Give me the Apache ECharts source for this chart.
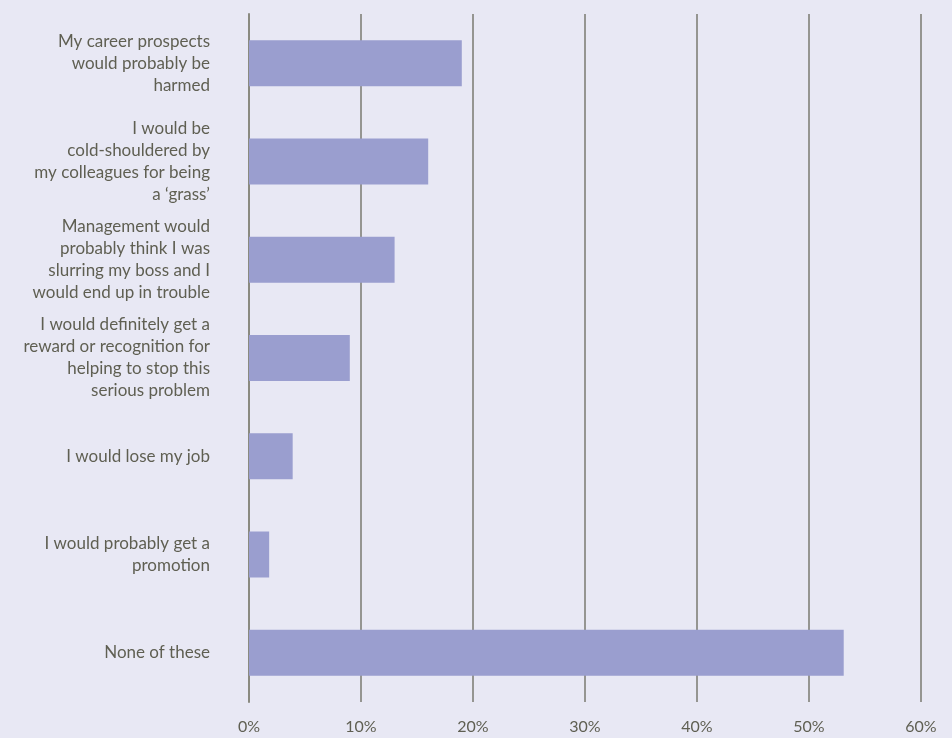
<!DOCTYPE html>
<html>
<head>
<meta charset="utf-8">
<script src="https://cdn.jsdelivr.net/npm/echarts@6/dist/echarts.min.js"></script>
<style>
  html, body { margin: 0; padding: 0; background: #e8e8f4; }
  #chart { width: 952px; height: 738px; }
</style>
</head>
<body>
<div id="chart"></div>
<script>
// answers, top to bottom
const categories = [
  "My career prospects\nwould probably be\nharmed",
  "I would be\ncold-shouldered by\nmy colleagues for being\na \u2018grass\u2019",
  "Management would\nprobably think I was\nslurring my boss and I\nwould end up in trouble",
  "I would definitely get a\nreward or recognition for\nhelping to stop this\nserious problem",
  "I would lose my job",
  "I would probably get a\npromotion",
  "None of these"
];
const shares = [19, 16, 13, 9, 3.9, 1.8, 53.1];
const tickMax = 60;
const tickStep = 10;

const textColor = "#5f5f52";
const chart = echarts.init(document.getElementById("chart"));

chart.setOption({
  backgroundColor: "#e8e8f4",
  animation: false,
  grid: { left: 249, right: 31, top: 14, bottom: 36 },
  xAxis: {
    type: "value",
    min: 0,
    max: tickMax,
    interval: tickStep,
    axisLine: { show: false },
    axisTick: { show: false },
    axisLabel: {
      formatter: "{value}%",
      color: textColor,
      fontFamily: "Lato",
      fontSize: 16,
      margin: 17
    },
    splitLine: { lineStyle: { color: "#7a7a70", width: 1.5 } }
  },
  yAxis: {
    type: "category",
    inverse: true,
    data: categories,
    axisLine: { show: true, lineStyle: { color: "#8a8a80", width: 2 } },
    axisTick: { show: false },
    axisLabel: {
      color: textColor,
      fontFamily: "Lato",
      fontSize: 17,
      lineHeight: 22,
      align: "right",
      margin: 39
    }
  },
  series: [{
    type: "bar",
    data: shares,
    barWidth: 46,
    itemStyle: { color: "#9a9ecf" }
  }]
});
</script>
</body>
</html>
